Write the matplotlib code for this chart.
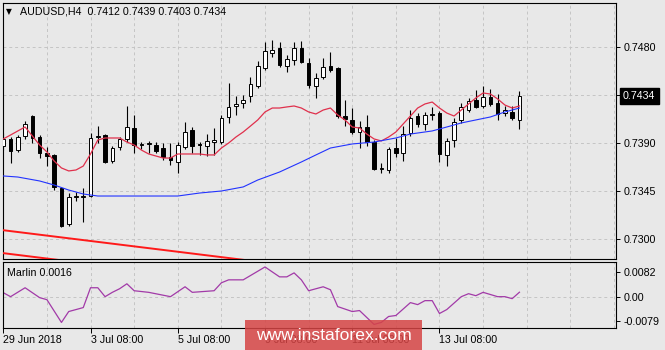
import matplotlib
matplotlib.use("Agg")
import matplotlib.pyplot as plt
import matplotlib.transforms as mtransforms
from matplotlib.patches import Rectangle
import numpy as np

# AUDUSD H4 candles
opens = [
    0.73872, 0.73938, 0.73834, 0.73966, 0.74153, 0.73956, 0.73806, 0.73788, 0.73478, 0.73141,
    0.73394, 0.73394, 0.73403, 0.73956, 0.73975, 0.73731, 0.73863, 0.73938, 0.74041, 0.73881,
    0.73891, 0.73881, 0.73853, 0.73769, 0.73722, 0.73863, 0.74022, 0.73891, 0.73872, 0.73909,
    0.73909, 0.74144, 0.74247, 0.74275, 0.74341, 0.74434, 0.74603, 0.74744, 0.74791, 0.74622,
    0.74678, 0.74791, 0.74650, 0.74434, 0.74519, 0.74622, 0.74603, 0.74153, 0.74116, 0.74003,
    0.74050, 0.73909, 0.73656, 0.73647, 0.73853, 0.73806, 0.73994, 0.74153, 0.74078, 0.74163,
    0.74181, 0.73788, 0.73928, 0.74116, 0.74209, 0.74303, 0.74247, 0.74331, 0.74275, 0.74181,
    0.74191, 0.74120]
highs = [
    0.73994, 0.73956, 0.73975, 0.74106, 0.74163, 0.73975, 0.73863, 0.73797, 0.73488, 0.73431,
    0.73441, 0.73478, 0.73994, 0.74059, 0.73984, 0.73872, 0.73956, 0.74247, 0.74163, 0.73909,
    0.73919, 0.73909, 0.73900, 0.73900, 0.73909, 0.74097, 0.74050, 0.73909, 0.73984, 0.74041,
    0.74163, 0.74463, 0.74341, 0.74350, 0.74519, 0.74669, 0.74847, 0.74866, 0.74847, 0.74725,
    0.74847, 0.74856, 0.74697, 0.74556, 0.74697, 0.74753, 0.74613, 0.74303, 0.74228, 0.74106,
    0.74163, 0.73928, 0.73713, 0.73863, 0.73947, 0.74059, 0.74209, 0.74181, 0.74191, 0.74238,
    0.74200, 0.73947, 0.74134, 0.74275, 0.74322, 0.74397, 0.74434, 0.74406, 0.74359, 0.74247,
    0.74247, 0.74390]
lows = [
    0.73834, 0.73713, 0.73816, 0.73938, 0.73900, 0.73759, 0.73684, 0.73459, 0.73113, 0.73122,
    0.73356, 0.73159, 0.73394, 0.73900, 0.73713, 0.73713, 0.73834, 0.73909, 0.73806, 0.73844,
    0.73806, 0.73806, 0.73741, 0.73694, 0.73619, 0.73844, 0.73806, 0.73788, 0.73778, 0.73788,
    0.73891, 0.74088, 0.74163, 0.74228, 0.74284, 0.74416, 0.74584, 0.74706, 0.74613, 0.74566,
    0.74631, 0.74650, 0.74416, 0.74322, 0.74500, 0.74566, 0.74134, 0.74059, 0.73984, 0.73853,
    0.73872, 0.73647, 0.73619, 0.73619, 0.73769, 0.73731, 0.73966, 0.74050, 0.74022, 0.74116,
    0.73722, 0.73684, 0.73863, 0.74088, 0.74191, 0.74228, 0.74228, 0.74247, 0.74116, 0.74153,
    0.74116, 0.74030]
closes = [
    0.73938, 0.73825, 0.73956, 0.74078, 0.73947, 0.73806, 0.73778, 0.73488, 0.73122, 0.73394,
    0.73403, 0.73403, 0.73947, 0.73966, 0.73722, 0.73853, 0.73938, 0.74050, 0.73881, 0.73891,
    0.73900, 0.73825, 0.73769, 0.73741, 0.73881, 0.74003, 0.73872, 0.73881, 0.73919, 0.73928,
    0.74134, 0.74238, 0.74266, 0.74303, 0.74453, 0.74622, 0.74763, 0.74772, 0.74631, 0.74688,
    0.74791, 0.74659, 0.74444, 0.74509, 0.74613, 0.74584, 0.74153, 0.74125, 0.74003, 0.74050,
    0.73909, 0.73656, 0.73666, 0.73844, 0.73806, 0.73984, 0.74134, 0.74078, 0.74163, 0.74172,
    0.73797, 0.73919, 0.74097, 0.74238, 0.74294, 0.74238, 0.74331, 0.74266, 0.74172, 0.74209,
    0.74134, 0.74340]

# fast moving average (red), one value per candle
ma_fast = [
    0.73938, 0.73975, 0.74013, 0.74050, 0.73966, 0.73881, 0.73816, 0.73731, 0.73666, 0.73638,
    0.73647, 0.73684, 0.73797, 0.73928, 0.73947, 0.73947, 0.73947, 0.73909, 0.73881, 0.73834,
    0.73797, 0.73778, 0.73759, 0.73759, 0.73797, 0.73797, 0.73797, 0.73797, 0.73788, 0.73788,
    0.73853, 0.73900, 0.73956, 0.74003, 0.74059, 0.74116, 0.74191, 0.74228, 0.74228, 0.74238,
    0.74247, 0.74228, 0.74191, 0.74172, 0.74209, 0.74228, 0.74163, 0.74116, 0.74050, 0.74041,
    0.73984, 0.73938, 0.73919, 0.73956, 0.74003, 0.74078, 0.74153, 0.74228, 0.74266, 0.74284,
    0.74228, 0.74181, 0.74153, 0.74209, 0.74266, 0.74322, 0.74369, 0.74359, 0.74313, 0.74256,
    0.74228, 0.74247]

# slow moving average (blue)
ma_slow_idx = [0, 2, 5, 7, 9, 11, 13, 18, 24, 27, 30, 33, 35, 38, 41, 43, 45, 48, 51, 54,
               56, 59, 61, 63, 65, 67, 69, 71]
ma_slow = [0.73591, 0.73581, 0.73544, 0.73506, 0.73459, 0.73422, 0.73403, 0.73403, 0.73403,
           0.73431, 0.73450, 0.73488, 0.73553, 0.73628, 0.73722, 0.73788, 0.73853, 0.73891,
           0.73909, 0.73947, 0.73984, 0.74013, 0.74050, 0.74088, 0.74116, 0.74144, 0.74191,
           0.74228]

# Marlin oscillator
marlin_idx = [0, 1, 3, 5, 6, 8, 9, 10, 11, 12, 13, 14, 15, 16, 17, 18, 20, 23, 25, 26,
              29, 30, 31, 33, 36, 38, 39, 40, 41, 42, 44, 45, 46, 48, 49, 51, 52, 53, 54, 56,
              57, 58, 59, 60, 61, 63, 64, 65, 66, 68, 69, 70, 71]
marlin = [0.00144, 0.00015, 0.00305, -0.00017, -0.00082, -0.00822, -0.00468, -0.00404,
          -0.00339, 0.00305, 0.00305, 0.00015, 0.00156, 0.00273, 0.00434, 0.00208, 0.00156,
          0.00015, 0.00337, 0.00156, 0.00208, 0.00466, 0.00562, 0.00562, 0.00981, 0.00659,
          0.00659, 0.00788, 0.00562, 0.00208, 0.00337, 0.00240, -0.00307, -0.00468, -0.00436,
          -0.00887, -0.00822, -0.00629, -0.00597, -0.00178, -0.00243, -0.00114, -0.00114,
          -0.00532, -0.00404, 0.00015, 0.00112, 0.00047, 0.00156, 0.00015, 0.00015, -0.00049,
          0.0016]

# two parallel red trend lines at the bottom
trend_idx = [-0.2, 40.0]
trend_upper = [0.73084, 0.72746]
trend_lower = [0.72869, 0.72531]

date_idx = [0, 12, 24, 36, 48, 60]
date_labels = ["29 Jun 2018", "3 Jul 08:00", "5 Jul 08:00", "9 Jul 08:00",
               "11 Jul 08:00", "13 Jul 08:00"]
price_ticks = [0.7480, 0.7435, 0.7390, 0.7345, 0.7300]
price_labels = ["0.7480", "", "0.7390", "0.7345", "0.7300"]
marlin_ticks = [0.0082, 0.0, -0.0079]
marlin_labels = ["0.0082", "0.00", "-0.0079"]

BG = "#e8e8e8"
GRID = "#c4c4c4"
DASH = (0, (3, 3))
plt.rcParams["font.family"] = ["Liberation Sans", "DejaVu Sans"]
plt.rcParams["font.size"] = 7.7

fig = plt.figure(figsize=(6.65, 3.5), dpi=100, facecolor=BG)
ax = fig.add_axes([3 / 665, 91 / 350, 613 / 665, 256 / 350], facecolor=BG)
ax2 = fig.add_axes([3 / 665, 22 / 350, 613 / 665, 66 / 350], facecolor=BG)

n = len(opens)
x = np.arange(n)
o = np.array(opens)
c = np.array(closes)
up = c >= o

ax.vlines(x, lows, highs, color="black", lw=0.8, zorder=2)
ax.bar(x, np.abs(c - o), bottom=np.minimum(o, c), width=0.5,
       color=np.where(up, "white", "black"), edgecolor="black", lw=0.7, zorder=3)

ax.plot(x, ma_fast, color="#e0304c", lw=0.9, zorder=4)
ax.plot(ma_slow_idx, ma_slow, color="#2233ff", lw=0.8, zorder=4)
ax.plot(trend_idx, trend_upper, color="#ff1a1a", lw=1.4, zorder=4)
ax.plot(trend_idx, trend_lower, color="#ff1a1a", lw=1.4, zorder=4)

ax2.plot(marlin_idx, marlin, color="#a23aa8", lw=0.9)
ax2.axhline(0, color=GRID, lw=0.7, ls=DASH, zorder=0)

for a in (ax, ax2):
    a.set_xlim(-0.04, 84.28)
    for k in range(6, 85, 6):
        a.axvline(k, color=GRID, lw=0.7, ls=DASH, zorder=0)
    for s in a.spines.values():
        s.set_color("black")
        s.set_linewidth(0.8)
    a.yaxis.tick_right()
    a.tick_params(axis="y", length=3, width=0.7, pad=2.2, labelsize=7.7, colors="black")

ax.set_ylim(0.728125, 0.752125)
ax.set_yticks(price_ticks, labels=price_labels)
ax.set_xticks([])
for p in price_ticks:
    ax.axhline(p, color=GRID, lw=0.7, ls=DASH, zorder=0)

ax2.set_ylim(-0.010032, 0.01142)
ax2.set_yticks(marlin_ticks, labels=marlin_labels)
ax2.set_xticks(date_idx, labels=date_labels)
ax2.tick_params(axis="x", length=3.5, width=0.7, pad=1.5, labelsize=7.7)
for lbl in ax2.get_xticklabels():
    lbl.set_horizontalalignment("left")

# title line and indicator label
title = "AUDUSD,H4  %.4f %.4f %.4f %.4f" % (opens[-1], highs[-1], lows[-1], closes[-1])
fig.text(6 / 665, 1 - 12 / 350, "\u25bc", family="DejaVu Sans", fontsize=5.5, va="center")
fig.text(20 / 665, 1 - 12 / 350, title, va="center")
ax2.text(0.006, 0.84, "Marlin %.4f" % marlin[-1], transform=ax2.transAxes, va="center")

# current price box
trans = mtransforms.blended_transform_factory(ax.transAxes, ax.transData)
ax.text(1 + 7 / 613, closes[-1], "%.4f" % closes[-1], transform=trans, color="white",
        va="center", ha="left", clip_on=False,
        bbox=dict(boxstyle="square,pad=0.3", fc="black", ec="black"))

# watermark
fig.patches.append(Rectangle((245 / 665, 0), 177 / 665, 30 / 350, transform=fig.transFigure,
                             facecolor="#d64545", alpha=0.85, edgecolor="none", zorder=5))
fig.text(333.5 / 665, 15 / 350, "www.instaforex.com", color="white", fontsize=12.6,
         ha="center", va="center", zorder=6)

fig.savefig("out.png", dpi=100, facecolor=BG)
